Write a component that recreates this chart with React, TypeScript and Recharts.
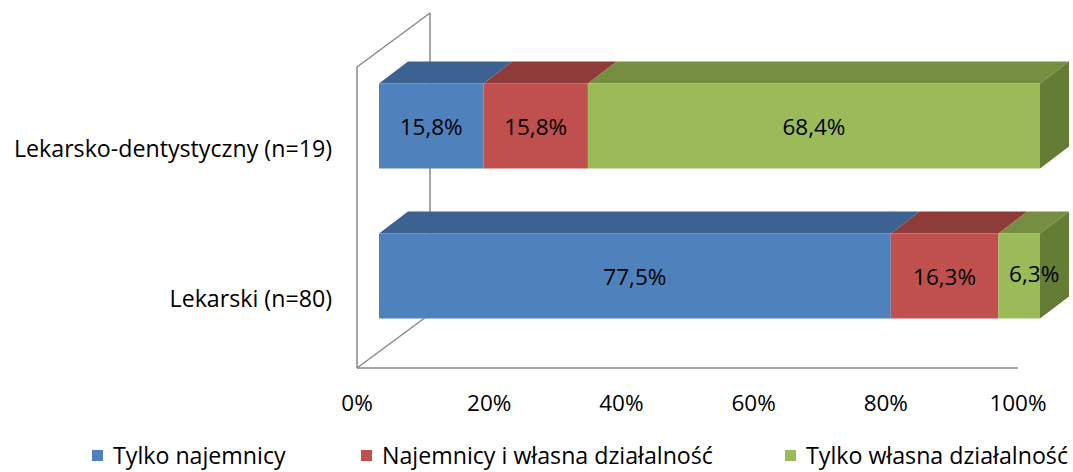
import { BarChart, Bar, XAxis, YAxis, Legend, LabelList } from 'recharts';

const categories = ['Lekarsko-dentystyczny (n=19)', 'Lekarski (n=80)'];
const tylkoNajemnicy = [15.8, 77.5];
const najemnicyIWlasna = [15.8, 16.3];
const tylkoWlasna = [68.4, 6.3];
const xTicks = [0, 0.2, 0.4, 0.6, 0.8, 1];

const data = categories.map((name, i) => ({
  name,
  a: tylkoNajemnicy[i],
  b: najemnicyIWlasna[i],
  c: tylkoWlasna[i],
}));

const series = [
  { key: 'a', name: 'Tylko najemnicy', front: '#4F81BD', top: '#3C6291', side: '#36587F' },
  { key: 'b', name: 'Najemnicy i własna działalność', front: '#C0504D', top: '#8F3B39', side: '#7F3432' },
  { key: 'c', name: 'Tylko własna działalność', front: '#9BBB59', top: '#768E3F', side: '#657C34' },
];

const W = 1073;
const H = 472;
const FONT = '"Open Sans", sans-serif';
const FS = 22.5;
const FS_CAT = 23.2;
// 3d depth of bars and of the wall box
const DX = 29;
const DY = 22;
const WALL = { front: 357, back: 430, top: 67, backTop: 13, floor: 368, backFloor: 314, right: 1018 };

function Box3D(props: any) {
  const { x, y, width, height, colors, last } = props;
  if (width == null || height == null) return null;
  return (
    <g>
      <polygon
        points={`${x},${y} ${x + width},${y} ${x + width + DX},${y - DY} ${x + DX},${y - DY}`}
        fill={colors.top}
      />
      {last && (
        <polygon
          points={`${x + width},${y} ${x + width + DX},${y - DY} ${x + width + DX},${y + height - DY} ${x + width},${y + height}`}
          fill={colors.side}
        />
      )}
      <rect x={x} y={y} width={width} height={height} fill={colors.front} />
    </g>
  );
}

const fmt = (v: number) => v.toFixed(1).replace('.', ',') + '%';

function ValueLabel(props: any) {
  const { x, y, width, height, value } = props;
  const narrow = width < 60;
  return (
    <text
      x={x + width / 2 + (narrow ? 15 : 0)}
      y={y + height / 2 + (narrow ? -3 : 0)}
      textAnchor="middle"
      dominantBaseline="central"
      fontFamily={FONT}
      fontSize={FS}
      fill="#000"
    >
      {fmt(value)}
    </text>
  );
}

function XTick(props: any) {
  const { x, y, payload } = props;
  return (
    <text x={x - 22} y={y + 52} textAnchor="middle" dominantBaseline="central" fontFamily={FONT} fontSize={FS} fill="#000">
      {Math.round(payload.value * 100) + '%'}
    </text>
  );
}

function YTick(props: any) {
  const { x, y, payload } = props;
  return (
    <text x={x - 47} y={y + 22} textAnchor="end" dominantBaseline="central" fontFamily={FONT} fontSize={FS_CAT} fill="#000">
      {payload.value}
    </text>
  );
}

function LegendContent() {
  const widths = [269, 424, 288];
  return (
    <div style={{ display: 'flex', paddingLeft: 92, fontFamily: FONT, fontSize: FS_CAT, lineHeight: '26px', whiteSpace: 'nowrap' }}>
      {series.map((s, i) => (
        <div key={s.key} style={{ display: 'flex', alignItems: 'center', width: widths[i] }}>
          <span style={{ display: 'inline-block', width: 11, height: 11, background: s.front, marginRight: 10 }} />
          <span>{s.name}</span>
        </div>
      ))}
    </div>
  );
}

export default function App() {
  return (
    <div style={{ position: 'absolute', left: 0, top: 0, width: W, height: H, overflow: 'hidden', background: '#fff' }}>
      <svg width={W} height={H} style={{ position: 'absolute', left: 0, top: 0 }}>
        <g stroke="#898989" strokeWidth={1.5} fill="none">
          <line x1={WALL.front} y1={WALL.top} x2={WALL.front} y2={WALL.floor} />
          <line x1={WALL.front} y1={WALL.top} x2={WALL.back} y2={WALL.backTop} />
          <line x1={WALL.back} y1={WALL.backTop} x2={WALL.back} y2={WALL.backFloor} />
          <line x1={WALL.front} y1={WALL.floor} x2={WALL.back} y2={WALL.backFloor} />
          <line x1={WALL.front} y1={WALL.floor} x2={WALL.right} y2={WALL.floor} />
        </g>
      </svg>
      <div style={{ position: 'absolute', left: 0, top: 0 }}>
        <BarChart
          width={W}
          height={H}
          data={data}
          layout="vertical"
          stackOffset="expand"
          margin={{ top: 50.5, right: 33, bottom: 61.5, left: 0 }}
        >
          <XAxis
            type="number"
            domain={[0, 1]}
            ticks={xTicks}
            axisLine={false}
            tickLine={false}
            tickSize={0}
            tickMargin={0}
            height={30}
            tick={<XTick />}
            interval={0}
          />
          <YAxis
            type="category"
            dataKey="name"
            width={379}
            axisLine={false}
            tickLine={false}
            tickSize={0}
            tickMargin={0}
            tick={<YTick />}
          />
          <Legend
            height={30}
            content={<LegendContent />}
            wrapperStyle={{ top: 442, bottom: 'auto', left: 0, width: W }}
          />
          {series.map((s, i) => (
            <Bar
              key={s.key}
              dataKey={s.key}
              name={s.name}
              stackId="s"
              fill={s.front}
              barSize={85}
              isAnimationActive={false}
              shape={(p: any) => <Box3D {...p} colors={s} last={i === series.length - 1} />}
            >
              <LabelList dataKey={s.key} content={<ValueLabel />} />
            </Bar>
          ))}
        </BarChart>
      </div>
    </div>
  );
}
